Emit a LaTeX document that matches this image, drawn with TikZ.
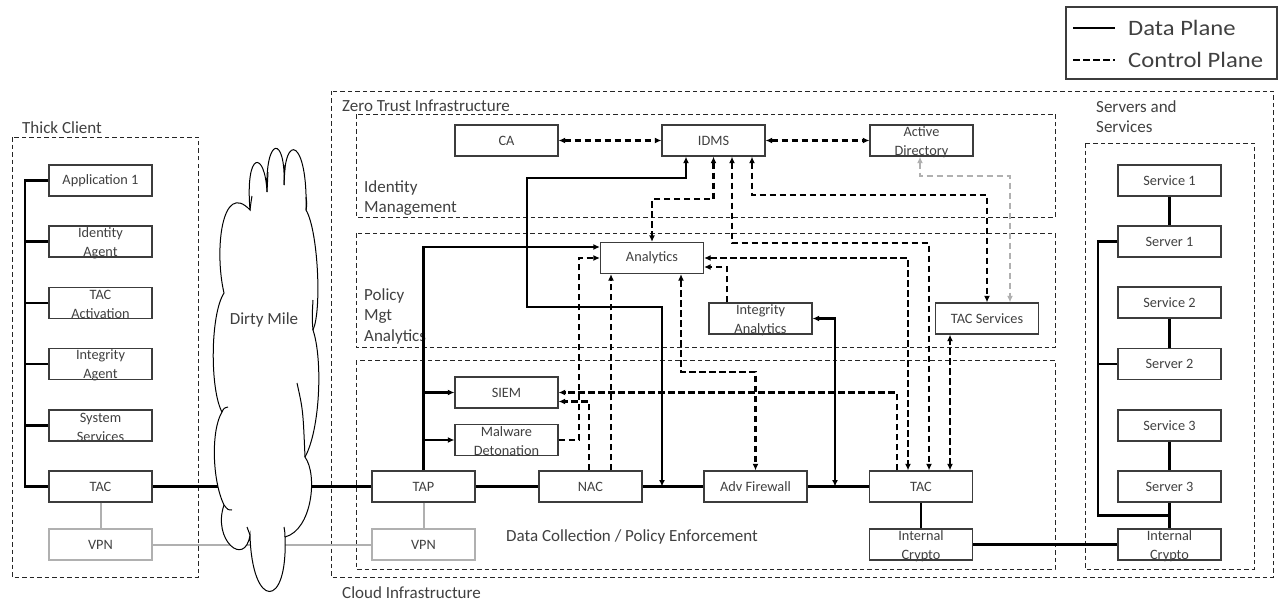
\documentclass[tikz,border=0pt]{standalone}
\usepackage{fontspec}
\setmainfont{Carlito}
\usetikzlibrary{arrows.meta,calc}
\definecolor{txt}{HTML}{404040}
\definecolor{bord}{HTML}{3C3C3C}
\definecolor{lgray}{HTML}{B0B0B0}
\newcommand{\tallln}{\rule{0pt}{13pt}}
\tikzset{
  arr/.tip={Latex[length=6.5pt,width=6pt]},
  box/.style={draw=bord, line width=1.3pt, fill=white, minimum width=103pt, minimum height=31pt,
    inner sep=0pt, align=center, text=txt, font=\fontsize{14.3}{19}\selectfont},
  box2/.style={box, inner ysep=-2.5pt},
  vbox/.style={box, draw=lgray},
  grp/.style={draw=black!85, line width=0.9pt, dash pattern=on 4.5pt off 3pt},
  lab/.style={anchor=base west, inner sep=0pt, text=txt, font=\fontsize{17}{20.5}\selectfont, align=left},
  legtxt/.style={anchor=base west, inner sep=0pt, text=txt, font=\fontsize{22}{24}\selectfont},
  data/.style={line width=2.3pt, draw=black},
  ctrl/.style={line width=2.3pt, draw=black, dash pattern=on 6.5pt off 3.5pt},
  ctrlg/.style={ctrl, draw=lgray},
  vpnl/.style={line width=2pt, draw=lgray},
  cloudline/.style={draw=black, line width=1pt},
}
\begin{document}
\begin{tikzpicture}[x=1pt,y=-1pt]
\useasboundingbox (0,0) rectangle (1278,602);

% ---------- group boxes ----------
\draw[grp] (12,137) rectangle (198,577);
\draw[grp] (331,91) rectangle (1273,577);
\draw[grp] (356,114) rectangle (1055,217);
\draw[grp] (356,233) rectangle (1055,347);
\draw[grp] (356,360) rectangle (1055,569);
\draw[grp] (1085,143) rectangle (1254,569);

% ---------- group labels ----------
\node[lab] (lthick) at (22,133) {Thick Client};
\node[lab] (lzero) at (342,111) {Zero Trust Infrastructure};
\node[lab] (lidm) at (364,212.5) {Identity\\Management};
\node[lab] (lpol) at (364,341) {Policy\\Mgt\\Analytics};
\node[lab] (ldc) at (506,541) {Data Collection / Policy Enforcement};
\node[lab] (lcloud) at (342,598) {Cloud Infrastructure};
\node[lab] (lsrv) at (1096,132.5) {Servers and\\Services};

% ---------- legend ----------
\node[draw=bord, line width=1.5pt, minimum width=211pt, minimum height=72pt, inner sep=0pt] (legend) at (1171.5,43) {};
\coordinate (lda) at (1073,28); \coordinate (ldb) at (1115,28);
\coordinate (lca) at (1073,60); \coordinate (lcb) at (1115,60);
\draw[data] (lda) -- (ldb);
\draw[ctrl] (lca) -- (lcb);
\node[legtxt] (ldata) at (1128,36) {\scalebox{1.12}[1]{Data Plane}};
\node[legtxt] (lctrl) at (1128,68) {\scalebox{1.12}[1]{Control Plane}};

% ---------- nodes ----------
\node[box] (app)  at (100.5,180.5) {Application 1};
\node[box2] (ida)  at (100.5,241.5) {\tallln Identity\\Agent};
\node[box2] (taca) at (100.5,303)   {\tallln TAC\\Activation};
\node[box2] (inta) at (100.5,364)   {\tallln Integrity\\Agent};
\node[box2] (sys)  at (100.5,425.5) {\tallln System\\Services};
\node[box] (tacc) at (100.5,486.5) {TAC};
\node[vbox] (vpnc) at (100.5,544.5) {VPN};

\node[box] (ca)   at (506.5,140.5) {CA};
\node[box] (idms) at (713.5,140.5) {IDMS};
\node[box2] (ad)   at (921.5,140.5) {\tallln Active\\Directory};
\node[box] (ana)  at (652,258)     {Analytics};
\node[box2] (intan) at (760.5,318.5) {\tallln Integrity\\Analytics};
\node[box] (tacs) at (987,318.5)   {TAC Services};
\node[box] (siem) at (506.5,392.5) {SIEM};
\node[box2] (mal)  at (506.5,440)   {\tallln Malware\\Detonation};
\node[box] (tap)  at (423.5,486.5) {TAP};
\node[vbox] (vpns) at (423.5,544.5) {VPN};
\node[box] (nac)  at (590.5,486.5) {NAC};
\node[box] (fw)   at (755.5,486.5) {Adv Firewall};
\node[box] (tacz) at (921,486.5)   {TAC};
\node[box2] (icl)  at (921,544.5)   {\tallln Internal\\Crypto};

\node[box] (svc1) at (1169.5,180.5) {Service 1};
\node[box] (srv1) at (1169.5,241.5) {Server 1};
\node[box] (svc2) at (1169.5,302.5) {Service 2};
\node[box] (srv2) at (1169.5,364)   {Server 2};
\node[box] (svc3) at (1169.5,425.5) {Service 3};
\node[box] (srv3) at (1169.5,486.5) {Server 3};
\node[box2] (icr)  at (1169.5,544.5) {\tallln Internal\\Crypto};

% ---------- lane coordinates ----------
\coordinate (xL) at (25,0);
\coordinate (xR) at (1098,0);
\coordinate (yR) at (0,515.5);
\coordinate (xa) at (686,0);  \coordinate (xb) at (527,0);  \coordinate (xc) at (662,0);
\coordinate (xd) at (835,0);  \coordinate (xf) at (732,0);  \coordinate (xg) at (929,0);
\coordinate (xh) at (752,0);  \coordinate (xj) at (908,0);  \coordinate (xk) at (727,0);
\coordinate (xl) at (611,0);  \coordinate (xm) at (681,0);  \coordinate (xo) at (579,0);
\coordinate (xp) at (589,0);  \coordinate (xq) at (897,0);  \coordinate (xr) at (950,0);
\coordinate (xs) at (920,0);  \coordinate (xt) at (1010,0);
\coordinate (y178) at (0,178); \coordinate (y307) at (0,307); \coordinate (y199) at (0,199);
\coordinate (y243) at (0,243); \coordinate (y195) at (0,195); \coordinate (y267) at (0,267);
\coordinate (y372) at (0,372); \coordinate (y401) at (0,401.5); \coordinate (y176) at (0,176);
\coordinate (y247) at (0,247);

% ---------- thick client bus ----------
\draw[data] (app.west) -- (app.west -| xL) -- (tacc.west -| xL) -- (tacc.west);
\foreach \n in {ida,taca,inta,sys} \draw[data] (\n.west) -- (\n.west -| xL);
\draw[vpnl] (tacc.south) -- (vpnc.north);
\draw[vpnl] (vpnc.east) -- (vpns.west);
\draw[vpnl] (tap.south) -- (vpns.north);
\draw[data] (tacc.east) -- (tap.west);

% ---------- data plane ----------
\draw[data] (tap.east) -- (nac.west);
\draw[data] (nac.east) -- (fw.west);
\draw[data] (fw.east) -- (tacz.west);
\draw[data] (tacz.south) -- (icl.north);
\draw[data] (icl.east) -- (icr.west);
\draw[data, -{arr}] (tap.north) |- (ana.west |- y247);
\draw[data, -{arr}] (tap.north |- siem.west) -- (siem.west);
\draw[data, -{arr}] (tap.north |- mal.west) -- (mal.west);
\draw[data, {arr}-{arr}] (idms.south -| xa) -- (xa |- y178) -| (xb |- y307) -| (xc |- nac.east);
\draw[data, {arr}-{arr}] (intan.east) -| (xd |- fw.east);

% ---------- servers ----------
\draw[data] (svc1.south) -- (srv1.north);
\draw[data] (svc2.south) -- (srv2.north);
\draw[data] (svc3.south) -- (srv3.north);
\draw[data] (srv3.south) -- (icr.north);
\draw[data] (srv1.west) -- (srv1.west -| xR) -- (xR |- yR) -- (srv3.south |- yR);
\draw[data] (srv2.west) -- (srv2.west -| xR);

% ---------- control plane ----------
\draw[ctrl, {arr}-{arr}] (ca.east) -- (idms.west);
\draw[ctrl, {arr}-{arr}] (idms.east) -- (ad.west);
\draw[ctrl, {arr}-{arr}] (idms.south) -- (idms.south |- y199) -| (ana.north);
\draw[ctrl, {arr}-{arr}] (idms.south -| xf) -- (xf |- y243) -| (tacz.north -| xg);
\draw[ctrl, {arr}-{arr}] (idms.south -| xh) -- (xh |- y195) -| (tacs.north);
\draw[ctrl, {arr}-{arr}] (ana.east) -| (tacz.north -| xj);
\draw[ctrl, -{arr}] (intan.north -| xk) |- (ana.east |- y267);
\draw[ctrl, -{arr}] (nac.north -| xl) -- (ana.south -| xl);
\draw[ctrl, {arr}-{arr}] (ana.south -| xm) -- (xm |- y372) -| (fw.north);
\draw[ctrl, -{arr}] (mal.east) -| (xo |- ana.west) -- (ana.west);
\draw[ctrl, -{arr}] (tacz.north -| xq) |- (siem.east);
\draw[ctrl, -{arr}] (nac.north -| xp) |- (siem.east |- y401);
\draw[ctrl, {arr}-{arr}] (tacz.north -| xr) -- (tacs.south -| xr);
\draw[ctrlg, {arr}-{arr}] (ad.south -| xs) -- (xs |- y176) -| (tacs.north -| xt);

% ---------- dirty mile cloud ----------
\begin{scope}[x=1pt,y=1pt]
\draw[cloudline, fill=white] (250,-210)
  .. controls (245,-150) and (265,-150) .. (267,-192)
  .. controls (265,-135) and (286,-135) .. (284,-185)
  .. controls (284,-130) and (308,-140) .. (306,-210)
  .. controls (318,-230) and (322,-310) .. (313,-330)
  .. controls (323,-360) and (320,-430) .. (305,-457)
  .. controls (318,-475) and (312,-530) .. (285,-537)
  .. controls (288,-610) and (252,-610) .. (250,-535)
  .. controls (245,-568) and (212,-540) .. (224,-505)
  .. controls (212,-480) and (211,-430) .. (222,-412)
  .. controls (210,-390) and (210,-315) .. (224,-293)
  .. controls (214,-250) and (222,-180) .. (250,-210)
  -- cycle;
\draw[cloudline] (252,-196) .. controls (251,-202) .. (250,-210);
\draw[cloudline] (268,-172) .. controls (268,-182) .. (267,-192);
\draw[cloudline] (285,-165) .. controls (285,-175) .. (284,-185);
\draw[cloudline] (306,-197) .. controls (307,-204) .. (306,-210);
\draw[cloudline] (313,-300) .. controls (312,-318) .. (313,-330);
\draw[cloudline] (297,-383) .. controls (303,-410) .. (305,-457);
\draw[cloudline] (222,-412) .. controls (224,-408) .. (228,-407);
\draw[cloudline] (224,-505) .. controls (228,-510) .. (232,-510);
\draw[cloudline] (284,-527) .. controls (285,-533) .. (285,-537);
\draw[cloudline] (247,-527) .. controls (249,-531) .. (250,-535);
\end{scope}
\node[text=txt, inner sep=0pt, anchor=base, font=\fontsize{17}{20}\selectfont] (dmt) at (264,324) {Dirty Mile};
\end{tikzpicture}
\end{document}
